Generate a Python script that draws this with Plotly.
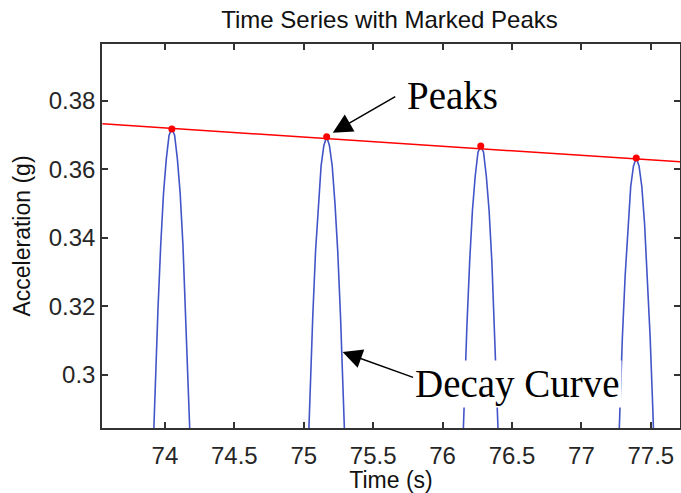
import plotly.graph_objects as go

# Blue signal: visible tops of each oscillation
time_s = [73.91, 73.93, 73.95, 73.97, 73.99, 74.01, 74.03, 74.05, 74.07, 74.09, 74.11, 74.13, 74.15, 74.17, 74.19, None,
          75.025, 75.045, 75.065, 75.085, 75.105, 75.125, 75.145, 75.165, 75.185, 75.205, 75.225, 75.245, 75.265, 75.285, 75.305, None,
          76.135, 76.155, 76.175, 76.195, 76.215, 76.235, 76.255, 76.275, 76.295, 76.315, 76.335, 76.355, 76.375, 76.395, 76.415, None,
          77.255, 77.275, 77.295, 77.315, 77.335, 77.355, 77.375, 77.395, 77.415, 77.435, 77.455, 77.475, 77.495, 77.515, 77.535]
accel_g = [0.272, 0.297, 0.319, 0.338, 0.353, 0.363, 0.370, 0.3718, 0.370, 0.363, 0.353, 0.338, 0.319, 0.297, 0.272, None,
           0.270, 0.295, 0.317, 0.336, 0.350, 0.361, 0.367, 0.3695, 0.367, 0.361, 0.350, 0.336, 0.317, 0.295, 0.270, None,
           0.267, 0.292, 0.314, 0.333, 0.348, 0.358, 0.365, 0.3668, 0.365, 0.358, 0.348, 0.333, 0.314, 0.292, 0.267, None,
           0.263, 0.289, 0.311, 0.329, 0.344, 0.355, 0.361, 0.3633, 0.361, 0.355, 0.344, 0.329, 0.311, 0.289, 0.263]

# Marked peaks
peak_t = [74.05, 75.165, 76.275, 77.395]
peak_a = [0.3718, 0.3695, 0.3668, 0.3633]

# Decay line (red) endpoints
decay_t = [73.55, 77.71]
decay_a = [0.3733, 0.3622]

x_ticks = [74, 74.5, 75, 75.5, 76, 76.5, 77, 77.5]
x_tick_text = ["74", "74.5", "75", "75.5", "76", "76.5", "77", "77.5"]
y_ticks = [0.30, 0.32, 0.34, 0.36, 0.38]
y_tick_text = ["0.3", "0.32", "0.34", "0.36", "0.38"]

fig = go.Figure()
fig.add_trace(go.Scatter(x=time_s, y=accel_g, mode="lines",
                         line=dict(color="rgb(65,85,200)", width=1.6),
                         connectgaps=False, showlegend=False, hoverinfo="skip"))
fig.add_trace(go.Scatter(x=decay_t, y=decay_a, mode="lines",
                         line=dict(color="red", width=1.5), showlegend=False))
fig.add_trace(go.Scatter(x=peak_t, y=peak_a, mode="markers",
                         marker=dict(color="red", size=7), showlegend=False))

serif = "Liberation Serif, Times New Roman, serif"
fig.add_annotation(x=76.07, y=0.3815, xref="x", yref="y", text="Peaks", showarrow=False,
                   font=dict(family=serif, size=39, color="black"))
fig.add_annotation(x=75.209, y=0.3707, xref="x", yref="y", text="", showarrow=True,
                   ax=64, ay=-37, arrowhead=2, arrowsize=2.6, arrowwidth=1.5, arrowcolor="black")
fig.add_annotation(x=76.54, y=0.2974, xref="x", yref="y", text="Decay Curve", showarrow=False,
                   bgcolor="white", font=dict(family=serif, size=39, color="black"))
fig.add_annotation(x=75.28, y=0.3067, xref="x", yref="y", text="", showarrow=True,
                   ax=72, ay=26, arrowhead=2, arrowsize=2.6, arrowwidth=1.5, arrowcolor="black")

sans = "Liberation Sans, Arial, sans-serif"
axis_common = dict(showline=True, linecolor="#333333", linewidth=1.5, mirror="ticks",
                   ticks="inside", ticklen=6, tickcolor="#333333", tickwidth=1.5,
                   showgrid=False, zeroline=False,
                   tickfont=dict(family=sans, size=24, color="#262626"),
                   title_font=dict(family=sans, size=23, color="#111111"))
fig.update_xaxes(range=[73.547, 77.71], tickvals=x_ticks, ticktext=x_tick_text,
                 title_text="Time (s)", title_standoff=3, ticklabelstandoff=5, **axis_common)
fig.update_yaxes(range=[0.2845, 0.3966], tickvals=y_ticks, ticktext=y_tick_text,
                 title_text="Acceleration (g)", title_standoff=12, **axis_common)

fig.update_layout(width=681, height=493,
                  margin=dict(l=102, r=1, t=44, b=65, autoexpand=False),
                  paper_bgcolor="white", plot_bgcolor="white",
                  title=dict(text="Time Series with Marked Peaks", x=0.572, xanchor="center",
                             y=0.961, yanchor="middle",
                             font=dict(family=sans, size=24, color="#111111")))

fig.write_html("out.html", config={"displayModeBar": False},
               post_script="document.body.style.margin='0';document.body.style.overflow='hidden';")
